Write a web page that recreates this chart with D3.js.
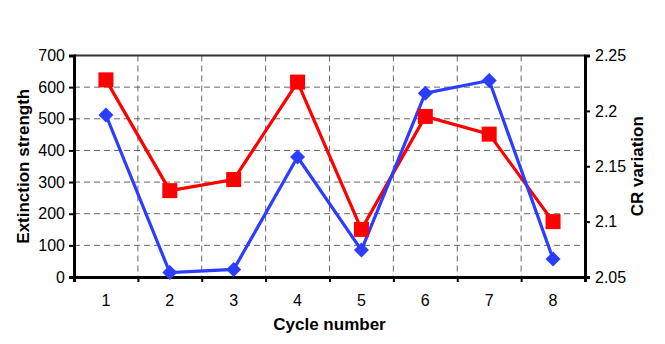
<!DOCTYPE html>
<html>
<head>
<meta charset="utf-8">
<script src="https://cdn.jsdelivr.net/npm/d3@7"></script>
<style>
body{margin:0;background:#fff;}
svg text{font-family:"Liberation Sans",Arial,sans-serif;}
</style>
</head>
<body>
<svg id="chart" width="665" height="344"></svg>
<script>
// data
var cycles = [1, 2, 3, 4, 5, 6, 7, 8];
var extinction = [512, 14, 24, 379, 85, 581, 621, 57];
var crVariation = [2.228, 2.128, 2.138, 2.226, 2.093, 2.195, 2.179, 2.100];
var leftTicks = [0, 100, 200, 300, 400, 500, 600, 700];
var rightTicks = [2.05, 2.1, 2.15, 2.2, 2.25];

var svg = d3.select("#chart");
var L = 74, R = 585, T = 55.5, B = 277;

var x = d3.scaleBand().domain(cycles).range([L, R]);
var yL = d3.scaleLinear().domain([0, 700]).range([B, T]);
var yR = d3.scaleLinear().domain([2.05, 2.25]).range([B, T]);

// horizontal grid
svg.selectAll(".hgrid").data(leftTicks.slice(1, -1)).enter().append("line")
    .attr("x1", L).attr("x2", R)
    .attr("y1", function(d){ return yL(d); })
    .attr("y2", function(d){ return yL(d); })
    .attr("stroke", "#666").attr("stroke-width", 1)
    .attr("stroke-dasharray", "6,4");

// vertical grid at category boundaries
svg.selectAll(".vgrid").data(cycles.slice(1)).enter().append("line")
    .attr("x1", function(d){ return x(d); })
    .attr("x2", function(d){ return x(d); })
    .attr("y1", T).attr("y2", B)
    .attr("stroke", "#666").attr("stroke-width", 1)
    .attr("stroke-dasharray", "6,4");

// top border
svg.append("line").attr("x1", L).attr("x2", R).attr("y1", T).attr("y2", T)
    .attr("stroke", "#333").attr("stroke-width", 2);

// left axis
var gL = svg.append("g").attr("transform", "translate(" + L + ",0)")
    .call(d3.axisLeft(yL).tickValues(leftTicks).tickSize(5).tickPadding(4));
// right axis
var gR = svg.append("g").attr("transform", "translate(" + R + ",0)")
    .call(d3.axisRight(yR).tickValues(rightTicks).tickSize(5).tickPadding(5)
        .tickFormat(function(d){ return String(+d.toFixed(2)); }));
// bottom axis: ticks at band edges
var xEdge = d3.scaleLinear().domain([0, 8]).range([L, R]);
var gB = svg.append("g").attr("transform", "translate(0," + B + ")")
    .call(d3.axisBottom(xEdge).ticks(8).tickSize(5).tickFormat(""));

[gL, gR, gB].forEach(function(g){
    g.select(".domain").attr("stroke", "#000").attr("stroke-width", 3);
    g.selectAll(".tick line").attr("stroke", "#000").attr("stroke-width", 2);
    g.selectAll("text").attr("fill", "#000").style("font-size", "16px")
        .style("font-family", "Liberation Sans, Arial, sans-serif");
});

// category labels
svg.selectAll(".xlab").data(cycles).enter().append("text")
    .attr("x", function(d){ return x(d) + x.bandwidth() / 2; })
    .attr("y", 306)
    .attr("text-anchor", "middle")
    .style("font-size", "16px")
    .text(function(d){ return d; });

// lines
var blueLine = d3.line()
    .x(function(d, i){ return x(cycles[i]) + x.bandwidth() / 2; })
    .y(function(d){ return yL(d); });
var redLine = d3.line()
    .x(function(d, i){ return x(cycles[i]) + x.bandwidth() / 2; })
    .y(function(d){ return yR(d); });

svg.append("path").datum(crVariation).attr("d", redLine)
    .attr("fill", "none").attr("stroke", "#ff0000").attr("stroke-width", 3.2);
svg.append("path").datum(extinction).attr("d", blueLine)
    .attr("fill", "none").attr("stroke", "#2b3dff").attr("stroke-width", 3.2);

// red squares
svg.selectAll(".sq").data(crVariation).enter().append("rect")
    .attr("x", function(d, i){ return x(cycles[i]) + x.bandwidth() / 2 - 7.5; })
    .attr("y", function(d){ return yR(d) - 7.5; })
    .attr("width", 15).attr("height", 15)
    .attr("fill", "#ff0000");

// blue diamonds
svg.selectAll(".dm").data(extinction).enter().append("path")
    .attr("d", "M0,-7.5L7.5,0L0,7.5L-7.5,0Z")
    .attr("transform", function(d, i){
        return "translate(" + (x(cycles[i]) + x.bandwidth() / 2) + "," + yL(d) + ")";
    })
    .attr("fill", "#2b3dff");

// axis titles
svg.append("text")
    .attr("transform", "translate(29," + ((T + B) / 2) + ") rotate(-90)")
    .attr("text-anchor", "middle")
    .style("font-size", "17px").style("font-weight", "bold")
    .text("Extinction strength");
svg.append("text")
    .attr("transform", "translate(643," + ((T + B) / 2) + ") rotate(-90)")
    .attr("text-anchor", "middle")
    .style("font-size", "17px").style("font-weight", "bold")
    .text("CR variation");
svg.append("text")
    .attr("x", (L + R) / 2).attr("y", 330)
    .attr("text-anchor", "middle")
    .style("font-size", "17px").style("font-weight", "bold")
    .text("Cycle number");
</script>
</body>
</html>
